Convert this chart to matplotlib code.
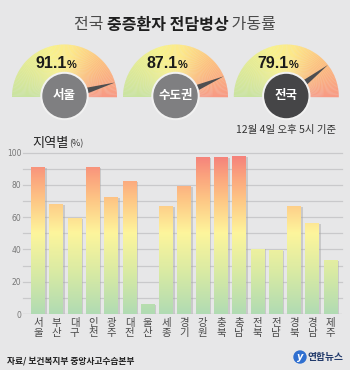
import numpy as np
import matplotlib.pyplot as plt
from matplotlib.colors import LinearSegmentedColormap
from matplotlib.patches import Wedge, Circle, Polygon

plt.rcParams['font.family'] = ['Noto Sans CJK KR', 'DejaVu Sans']

# 지역별 가동률 (%)
regions = ['서울', '부산', '대구', '인천', '광주', '대전', '울산', '세종', '경기',
           '강원', '충북', '충남', '전북', '전남', '경북', '경남', '제주']
rates = [91.1, 68.3, 59.8, 91.0, 72.5, 82.2, 6.2, 66.7, 79.1,
         97.5, 97.1, 97.7, 40.6, 39.8, 66.7, 56.3, 33.3]

# 게이지
gauge_names = ['서울', '수도권', '전국']
gauge_values = [91.1, 87.1, 79.1]

BG = '#e7e7e8'
W, H = 350, 370

bar_cmap = LinearSegmentedColormap.from_list('bar', [
    (0.0, '#b0dbb3'), (0.25, '#d8eaa4'), (0.5, '#fdf59c'),
    (0.7, '#fec886'), (0.85, '#fba47e'), (1.0, '#f47c7b')])
gauge_cmap = LinearSegmentedColormap.from_list('gauge', [
    (0.0, '#c9e3a0'), (0.4, '#f8f28c'), (0.55, '#fde889'),
    (0.75, '#fdc27f'), (1.0, '#f89a84')])

fig = plt.figure(figsize=(W / 100, H / 100), dpi=100, facecolor=BG)

# ---- 막대 그래프
ax = fig.add_axes([23 / W, (H - 314) / H, (341.7 - 23) / W, (314 - 152.7) / H])
ax.set_facecolor(BG)
x = np.arange(len(regions))
vals = np.array(rates)
wd = 0.76

for y in range(10, 101, 10):
    ax.axhline(y, color='#c9c9cb', lw=0.9, zorder=0, clip_on=False)
ax.axhline(0, color='#b5b5b5', lw=0.9, zorder=0)

# 그림자
ax.bar(x + 0.09, vals - 0.6, wd, color='#a5a5a7', alpha=0.45, zorder=1, lw=0)
bars = ax.bar(x, vals, wd, color='none', lw=0, zorder=2)
grad = np.linspace(0, 1, 256).reshape(-1, 1)
for b in bars:
    im = ax.imshow(grad, cmap=bar_cmap, origin='lower', aspect='auto',
                   extent=[b.get_x(), b.get_x() + b.get_width(), 0, 100],
                   zorder=2, interpolation='bilinear')
    im.set_clip_path(b)

ax.set_xlim(-0.82, len(regions) - 0.4)
ax.set_ylim(0, 100)
ax.set_yticks(range(0, 101, 20))
ax.set_yticklabels([str(v) for v in range(0, 101, 20)], fontsize=5.5, color='#777777',
                   family=['DejaVu Sans'])
ax.set_xticks(x)
ax.set_xticklabels(['\n'.join(r) for r in regions], fontsize=7.5, color='#4a4a4a',
                   linespacing=1.0, va='top')
ax.tick_params(length=0, pad=3)
ax.tick_params(axis='y', pad=1)
for s in ax.spines.values():
    s.set_visible(False)

# ---- 게이지 및 텍스트 (픽셀 좌표)
ov = fig.add_axes([0, 0, 1, 1], zorder=5)
ov.set_xlim(0, W)
ov.set_ylim(H, 0)
ov.axis('off')

centers = [64.5, 175.5, 286.3]
cy = 97
R = 52.5
for cx, name, v in zip(centers, gauge_names, gauge_values):
    n = 120
    for i in range(n):
        a1 = 180 - 180 * (i + 1) / n
        a2 = 180 - 180 * i / n
        # 화면 좌표가 뒤집혀 있어서 각도 부호를 바꿈
        ov.add_patch(Wedge((cx, cy), R, -a2, -a1 + 0.3,
                           color=gauge_cmap(i / (n - 1)), lw=0))
    ang = np.radians(180 - 1.8 * v)
    d = np.array([np.cos(ang), -np.sin(ang)])
    p = np.array([-d[1], d[0]])
    base = np.array([cx, cy]) + d * 20
    tip = np.array([cx, cy]) + d * R
    ov.add_patch(Polygon([base + p * 3.2, base - p * 3.2, tip], closed=True,
                         color='#4e4e50', lw=0, zorder=3))
    fc = '#454547' if name == '전국' else '#7f7f81'
    ov.add_patch(Circle((cx, cy - 1), 23.5, color='#f2f2f2', zorder=4))
    ov.add_patch(Circle((cx, cy - 1), 21.5, color=fc, zorder=5))
    ov.text(cx, cy - 1, name, color='white', fontsize=9, fontweight='bold',
            ha='center', va='center', zorder=6)
    ov.text(cx + 2, 64, f'{v:.1f}', fontsize=11.5, fontweight='bold',
            color='#1a1a1a', ha='right', va='center', zorder=6,
            family=['Liberation Sans'])
    ov.text(cx + 2.5, 65, '%', fontsize=8, fontweight='bold', color='#1a1a1a',
            ha='left', va='center', zorder=6, family=['Liberation Sans'])

# 제목
fig.canvas.draw()
r = fig.canvas.get_renderer()
parts = [('전국 ', 'normal', '#4a4a4a'), ('중증환자 전담병상', 'bold', '#1f1f1f'),
         (' 가동률', 'normal', '#4a4a4a')]
objs = []
for s, w, c in parts:
    objs.append(ov.text(0, 25, s, fontsize=11.5, fontweight=w, color=c,
                        ha='left', va='center'))
widths = [o.get_window_extent(r).width for o in objs]
xx = W / 2 - sum(widths) / 2
for o, w in zip(objs, widths):
    o.set_x(xx)
    xx += w

ov.text(336, 130, '12월 4일 오후 5시 기준', fontsize=7.5, color='#333333',
        ha='right', va='center')
t1 = ov.text(32, 143, '지역별', fontsize=9.5, color='#222222', ha='left', va='center')
w1 = t1.get_window_extent(r).width
ov.text(32 + w1 + 1, 144, '(%)', fontsize=6.5, color='#333333', ha='left', va='center')

ov.text(7, 361, '자료/ 보건복지부 중앙사고수습본부', fontsize=6.3, color='#222222',
        ha='left', va='center', fontweight='bold')
ov.add_patch(Circle((300, 357), 6, color='#2f6fd0', zorder=3))
ov.text(300, 357.5, 'y', fontsize=7, color='white', fontweight='bold', ha='center',
        va='center', style='italic', family=['DejaVu Sans'], zorder=4)
ov.text(308, 357, '연합뉴스', fontsize=7, color='#223a6b', fontweight='bold',
        ha='left', va='center')

fig.savefig('out.png', dpi=100, facecolor=BG)
